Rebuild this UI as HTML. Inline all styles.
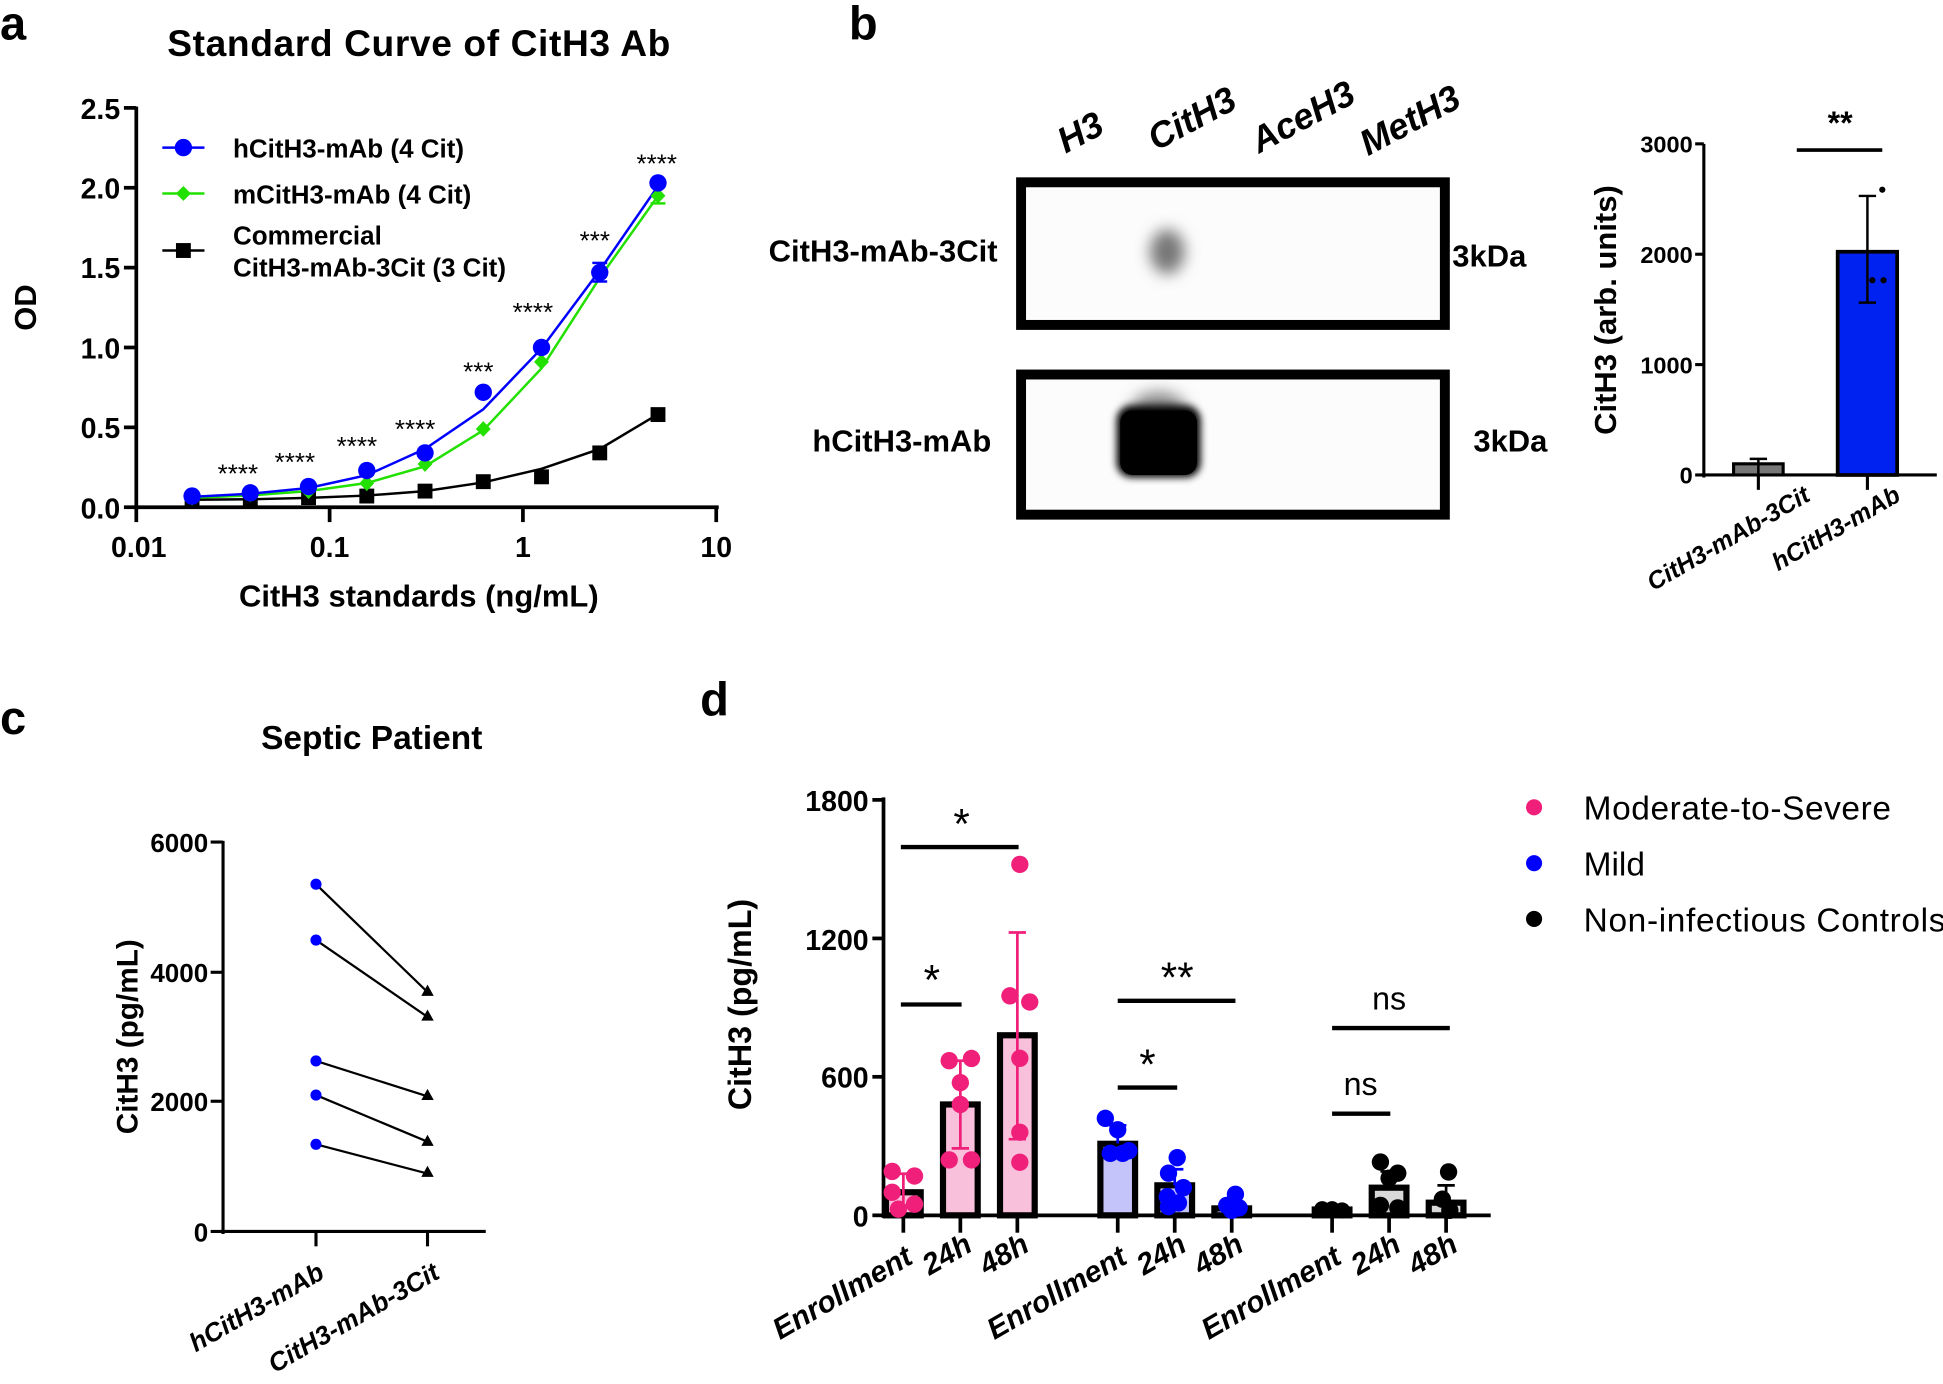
<!DOCTYPE html>
<html><head><meta charset="utf-8"><style>
html,body{margin:0;padding:0;background:#fff;}
svg{display:block;}
text{font-family:"Liberation Sans",Arial,sans-serif;}
</style></head><body>
<svg width="1943" height="1384" viewBox="0 0 1568 1116" preserveAspectRatio="none" xmlns="http://www.w3.org/2000/svg">
<defs>
<filter id="blur1" x="-50%" y="-50%" width="200%" height="200%"><feGaussianBlur stdDeviation="6"/></filter>
<filter id="blur2" x="-50%" y="-50%" width="200%" height="200%"><feGaussianBlur stdDeviation="3"/></filter>
</defs>
<g font-weight="bold" font-size="38" fill="#000">
<text x="0" y="32">a</text><text x="685" y="32">b</text><text x="0" y="592">c</text><text x="565" y="577">d</text>
</g>

<!-- ========== Panel a ========== -->
<text x="338" y="45" font-size="30" font-weight="bold" text-anchor="middle" textLength="406">Standard Curve of CitH3 Ab</text>
<g stroke="#000" stroke-width="3" fill="none">
<line x1="110" y1="86" x2="110" y2="411"/>
<line x1="108" y1="409" x2="580" y2="409"/>
<line x1="100" y1="87" x2="110" y2="87"/><line x1="100" y1="151.4" x2="110" y2="151.4"/><line x1="100" y1="215.8" x2="110" y2="215.8"/><line x1="100" y1="280.2" x2="110" y2="280.2"/><line x1="100" y1="344.6" x2="110" y2="344.6"/><line x1="100" y1="409" x2="110" y2="409"/>
<line x1="110" y1="409" x2="110" y2="421"/><line x1="266" y1="409" x2="266" y2="421"/><line x1="422" y1="409" x2="422" y2="421"/><line x1="578" y1="409" x2="578" y2="421"/>
</g>
<g font-size="23" font-weight="bold" text-anchor="end">
<text x="97" y="96">2.5</text><text x="97" y="160">2.0</text><text x="97" y="224">1.5</text><text x="97" y="289">1.0</text><text x="97" y="353">0.5</text><text x="97" y="418">0.0</text>
</g>
<g font-size="23" font-weight="bold" text-anchor="middle">
<text x="112" y="449">0.01</text><text x="266" y="449">0.1</text><text x="422" y="449">1</text><text x="578" y="449">10</text>
</g>
<text x="338" y="489" font-size="25" font-weight="bold" text-anchor="middle">CitH3 standards (ng/mL)</text>
<text transform="translate(29,248) rotate(-90)" font-size="25" font-weight="bold" text-anchor="middle">OD</text>
<polyline fill="none" stroke="#000" stroke-width="2" points="155,403 202,402.6 249,401.5 296,399.6 343,396 390,389 437,378 484,362 531,334"/>
<polyline fill="none" stroke="#22e000" stroke-width="2" points="155,401.5 202,399.5 249,396 296,389.5 343,376 390,347 437,297 484,224 531,158"/>
<polyline fill="none" stroke="#0000ff" stroke-width="2" points="155,400.6 202,398.1 249,393.5 296,383.2 343,362 390,330 437,281 484,218 531,150"/>
<g stroke="#0000ff" stroke-width="2"><line x1="484" y1="212" x2="484" y2="227"/><line x1="478" y1="212" x2="490" y2="212"/><line x1="478" y1="227" x2="490" y2="227"/></g>
<g stroke="#22e000" stroke-width="2"><line x1="531" y1="158" x2="531" y2="164"/><line x1="525" y1="164" x2="537" y2="164"/></g>
<g fill="#000">
<rect x="149" y="396.6" width="12" height="12"/><rect x="196" y="396.6" width="12" height="12"/><rect x="243" y="395.3" width="12" height="12"/><rect x="290" y="394" width="12" height="12"/><rect x="337" y="390" width="12" height="12"/><rect x="384" y="382.4" width="12" height="12"/><rect x="431" y="378.5" width="12" height="12"/><rect x="478" y="359.2" width="12" height="12"/><rect x="525" y="328.3" width="12" height="12"/>
</g>
<g fill="#22e000">
<path d="M155,395 l6,6.3 -6,6.3 -6,-6.3z"/><path d="M202,392.4 l6,6.3 -6,6.3 -6,-6.3z"/><path d="M249,389.8 l6,6.3 -6,6.3 -6,-6.3z"/><path d="M296,383.4 l6,6.3 -6,6.3 -6,-6.3z"/><path d="M343,367.9 l6,6.3 -6,6.3 -6,-6.3z"/><path d="M390,339.6 l6,6.3 -6,6.3 -6,-6.3z"/><path d="M437,285.5 l6,6.3 -6,6.3 -6,-6.3z"/><path d="M484,213.4 l6,6.3 -6,6.3 -6,-6.3z"/><path d="M531,151.5 l6,6.3 -6,6.3 -6,-6.3z"/>
</g>
<g fill="#0000ff">
<circle cx="155" cy="400" r="7"/><circle cx="202" cy="397.4" r="7"/><circle cx="249" cy="392.3" r="7"/><circle cx="296" cy="379.4" r="7"/><circle cx="343" cy="365.2" r="7"/><circle cx="390" cy="316.3" r="7"/><circle cx="437" cy="280.2" r="7"/><circle cx="484" cy="219.7" r="7"/><circle cx="531" cy="147.5" r="7"/>
</g>
<g font-size="21" text-anchor="middle">
<text x="192" y="389">****</text><text x="238" y="380">****</text><text x="288" y="367">****</text><text x="335" y="353">****</text><text x="386" y="307">***</text><text x="430" y="259">****</text><text x="480" y="201">***</text><text x="530" y="139">****</text>
</g>
<line x1="131" y1="119" x2="165" y2="119" stroke="#0000ff" stroke-width="2"/><circle cx="148" cy="119" r="7" fill="#0000ff"/>
<line x1="131" y1="156" x2="165" y2="156" stroke="#22e000" stroke-width="2"/><path d="M148,150 l6,6 -6,6 -6,-6z" fill="#22e000"/>
<line x1="131" y1="202" x2="165" y2="202" stroke="#000" stroke-width="2"/><rect x="142" y="196" width="12" height="12"/>
<g font-size="21" font-weight="bold">
<text x="188" y="127">hCitH3-mAb (4 Cit)</text><text x="188" y="164">mCitH3-mAb (4 Cit)</text><text x="188" y="197">Commercial</text><text x="188" y="223">CitH3-mAb-3Cit (3 Cit)</text>
</g>

<!-- ========== Panel b blots ========== -->
<g font-size="29" font-weight="bold" font-style="italic">
<text transform="translate(860,124) rotate(-28)">H3</text>
<text transform="translate(933,122) rotate(-28)">CitH3</text>
<text transform="translate(1016,124) rotate(-28)">AceH3</text>
<text transform="translate(1104,126) rotate(-28)">MetH3</text>
</g>
<rect x="824" y="147" width="342" height="115" fill="#fcfcfc" stroke="#000" stroke-width="8"/>
<rect x="824" y="302" width="342" height="113" fill="#fcfcfc" stroke="#000" stroke-width="8"/>
<ellipse cx="942" cy="203" rx="14" ry="18" fill="#777" filter="url(#blur1)"/>
<ellipse cx="935" cy="330" rx="22" ry="14" fill="#888" filter="url(#blur1)"/>
<rect x="901" y="327" width="68" height="58" rx="12" fill="#000" filter="url(#blur2)"/>
<rect x="904" y="331" width="62" height="52" rx="10" fill="#000"/>
<g font-size="25" font-weight="bold">
<text x="805" y="211" text-anchor="end">CitH3-mAb-3Cit</text>
<text x="800" y="364" text-anchor="end">hCitH3-mAb</text>
<text x="1172" y="215">3kDa</text>
<text x="1189" y="364">3kDa</text>
</g>
<g stroke="#000" stroke-width="2.5" fill="none">
<line x1="1375" y1="116" x2="1375" y2="385"/>
<line x1="1373" y1="383" x2="1563" y2="383"/>
<line x1="1368" y1="116" x2="1375" y2="116"/><line x1="1368" y1="205" x2="1375" y2="205"/><line x1="1368" y1="294" x2="1375" y2="294"/><line x1="1368" y1="383" x2="1375" y2="383"/>
<line x1="1419" y1="383" x2="1419" y2="395"/><line x1="1507" y1="383" x2="1507" y2="395"/>
</g>
<g font-size="19" font-weight="bold" text-anchor="end">
<text x="1366" y="123">3000</text><text x="1366" y="212">2000</text><text x="1366" y="301">1000</text><text x="1366" y="390">0</text>
</g>
<rect x="1399" y="374" width="40" height="9" fill="#777" stroke="#000" stroke-width="2.5"/>
<g stroke="#000" stroke-width="2"><line x1="1419" y1="370" x2="1419" y2="383"/><line x1="1412" y1="370" x2="1426" y2="370"/></g>
<rect x="1483" y="203" width="48" height="180" fill="#0022f0" stroke="#000" stroke-width="3"/>
<g stroke="#000" stroke-width="2"><line x1="1507" y1="158" x2="1507" y2="244"/><line x1="1500" y1="158" x2="1514" y2="158"/><line x1="1500" y1="244" x2="1514" y2="244"/></g>
<circle cx="1519" cy="153" r="2.5"/><circle cx="1511" cy="226" r="2.5"/><circle cx="1520" cy="226" r="2.5"/>
<line x1="1450" y1="121" x2="1519" y2="121" stroke="#000" stroke-width="3"/>
<text x="1485" y="108" font-size="26" font-weight="bold" text-anchor="middle">**</text>
<text transform="translate(1304,250) rotate(-90)" font-size="25" font-weight="bold" text-anchor="middle">CitH3 (arb. units)</text>
<g font-size="20" font-weight="bold" font-style="italic" text-anchor="end">
<text transform="translate(1462,403) rotate(-30)">CitH3-mAb-3Cit</text>
<text transform="translate(1535,403) rotate(-30)">hCitH3-mAb</text>
</g>

<!-- ========== Panel c ========== -->
<text x="300" y="604" font-size="27" font-weight="bold" text-anchor="middle">Septic Patient</text>
<g stroke="#000" stroke-width="2.5">
<line x1="180" y1="678" x2="180" y2="995"/>
<line x1="178" y1="993" x2="392" y2="993"/>
<line x1="170" y1="679" x2="180" y2="679"/><line x1="170" y1="784" x2="180" y2="784"/><line x1="170" y1="888" x2="180" y2="888"/><line x1="170" y1="993" x2="180" y2="993"/>
<line x1="255" y1="993" x2="255" y2="1005"/><line x1="345" y1="993" x2="345" y2="1005"/>
</g>
<g font-size="21" font-weight="bold" text-anchor="end">
<text x="168" y="687">6000</text><text x="168" y="792">4000</text><text x="168" y="896">2000</text><text x="168" y="1001">0</text>
</g>
<text transform="translate(111,836) rotate(-90)" font-size="24" font-weight="bold" text-anchor="middle">CitH3 (pg/mL)</text>
<g stroke="#000" stroke-width="1.8">
<line x1="255" y1="713" x2="345" y2="800"/><line x1="255" y1="758" x2="345" y2="820"/><line x1="255" y1="855.5" x2="345" y2="884"/><line x1="255" y1="883" x2="345" y2="920.6"/><line x1="255" y1="922.7" x2="345" y2="946.3"/>
</g>
<g fill="#0000ff"><circle cx="255" cy="713" r="4.5"/><circle cx="255" cy="758" r="4.5"/><circle cx="255" cy="855.5" r="4.5"/><circle cx="255" cy="883" r="4.5"/><circle cx="255" cy="922.7" r="4.5"/></g>
<g fill="#000"><path d="M345,794 l5,9 -10,0z"/><path d="M345,814 l5,9 -10,0z"/><path d="M345,878 l5,9 -10,0z"/><path d="M345,915 l5,9 -10,0z"/><path d="M345,940 l5,9 -10,0z"/></g>
<g font-size="21" font-weight="bold" font-style="italic" text-anchor="end">
<text transform="translate(263,1030) rotate(-30)">hCitH3-mAb</text>
<text transform="translate(356,1030) rotate(-30)">CitH3-mAb-3Cit</text>
</g>

<!-- ========== Panel d ========== -->
<g stroke="#000" stroke-width="3">
<line x1="713" y1="643" x2="713" y2="982"/>
<line x1="711" y1="980" x2="1203" y2="980"/>
<line x1="704" y1="645" x2="713" y2="645"/><line x1="704" y1="756.7" x2="713" y2="756.7"/><line x1="704" y1="868.3" x2="713" y2="868.3"/><line x1="704" y1="980" x2="713" y2="980"/>
<line x1="729" y1="980" x2="729" y2="994"/><line x1="775" y1="980" x2="775" y2="994"/><line x1="821" y1="980" x2="821" y2="994"/>
<line x1="902" y1="980" x2="902" y2="994"/><line x1="948" y1="980" x2="948" y2="994"/><line x1="994" y1="980" x2="994" y2="994"/>
<line x1="1075" y1="980" x2="1075" y2="994"/><line x1="1121" y1="980" x2="1121" y2="994"/><line x1="1167" y1="980" x2="1167" y2="994"/>
</g>
<g font-size="23" font-weight="bold" text-anchor="end">
<text x="701" y="654">1800</text><text x="701" y="766">1200</text><text x="701" y="877">600</text><text x="701" y="989">0</text>
</g>
<text transform="translate(606,810) rotate(-90)" font-size="26" font-weight="bold" text-anchor="middle">CitH3 (pg/mL)</text>
<g stroke="#000" stroke-width="5">
<rect x="715" y="961.4" width="28" height="18.6" fill="#f9c0dc"/>
<rect x="761" y="890.6" width="28" height="89.4" fill="#f9c0dc"/>
<rect x="807" y="834.8" width="28" height="145.2" fill="#f9c0dc"/>
<rect x="888" y="922.3" width="28" height="57.7" fill="#c4c4fa"/>
<rect x="934" y="955.8" width="28" height="24.2" fill="#c4c4fa"/>
<rect x="980" y="974.4" width="28" height="5.6" fill="#c4c4fa"/>
<rect x="1061" y="975.3" width="28" height="4.7" fill="#d8d8d8"/>
<rect x="1107" y="957.7" width="28" height="22.3" fill="#d8d8d8"/>
<rect x="1153" y="969.8" width="28" height="10.2" fill="#d8d8d8"/>
</g>
<g stroke="#f0207a" stroke-width="2.2">
<line x1="729" y1="946.5" x2="729" y2="976"/><line x1="722" y1="946.5" x2="736" y2="946.5"/>
<line x1="775" y1="855.3" x2="775" y2="926"/><line x1="768" y1="855.3" x2="782" y2="855.3"/><line x1="768" y1="926" x2="782" y2="926"/>
<line x1="821" y1="751.9" x2="821" y2="918.6"/><line x1="814" y1="751.9" x2="828" y2="751.9"/><line x1="814" y1="918.6" x2="828" y2="918.6"/>
</g>
<g stroke="#0000ff" stroke-width="2.2">
<line x1="902" y1="907.4" x2="902" y2="922"/><line x1="895" y1="907.4" x2="909" y2="907.4"/>
<line x1="948" y1="942.8" x2="948" y2="956"/><line x1="941" y1="942.8" x2="955" y2="942.8"/>
</g>
<g stroke="#000" stroke-width="2.2">
<line x1="1121" y1="944.6" x2="1121" y2="958"/><line x1="1114" y1="944.6" x2="1128" y2="944.6"/>
<line x1="1167" y1="955.8" x2="1167" y2="970"/><line x1="1160" y1="955.8" x2="1174" y2="955.8"/>
</g>
<g fill="#f0207a">
<circle cx="720" cy="944.6" r="7"/><circle cx="738" cy="948.3" r="7"/><circle cx="720" cy="961.4" r="7"/><circle cx="738" cy="971" r="7"/><circle cx="725" cy="975" r="7"/>
<circle cx="766" cy="855.3" r="7"/><circle cx="784" cy="853.5" r="7"/><circle cx="775" cy="873" r="7"/><circle cx="775" cy="890.6" r="7"/><circle cx="766" cy="935.3" r="7"/><circle cx="784" cy="935.3" r="7"/>
<circle cx="823" cy="697" r="7"/><circle cx="815" cy="803" r="7"/><circle cx="831" cy="808" r="7"/><circle cx="823" cy="853.4" r="7"/><circle cx="823" cy="913" r="7"/><circle cx="823" cy="937.2" r="7"/>
</g>
<g fill="#0000ff">
<circle cx="892" cy="901.8" r="7"/><circle cx="902" cy="911" r="7"/><circle cx="911" cy="927.9" r="7"/><circle cx="896" cy="930" r="7"/><circle cx="906" cy="930" r="7"/>
<circle cx="950" cy="933.5" r="7"/><circle cx="943" cy="946" r="7"/><circle cx="955" cy="957.7" r="7"/><circle cx="942" cy="965" r="7"/><circle cx="951" cy="970" r="7"/><circle cx="943" cy="973" r="7"/>
<circle cx="997" cy="963" r="7"/><circle cx="990" cy="972" r="7"/><circle cx="1000" cy="974" r="7"/><circle cx="994" cy="976" r="7"/>
</g>
<g fill="#000">
<circle cx="1067" cy="975" r="6.5"/><circle cx="1075" cy="975" r="6.5"/><circle cx="1083" cy="976" r="6.5"/>
<circle cx="1114" cy="937" r="7"/><circle cx="1128" cy="946" r="7"/><circle cx="1121" cy="950" r="7"/><circle cx="1114" cy="972" r="7"/><circle cx="1128" cy="974" r="7"/>
<circle cx="1169" cy="945" r="7"/><circle cx="1164" cy="967" r="7"/><circle cx="1170" cy="976" r="7"/>
</g>
<g stroke="#000" stroke-width="3.5">
<line x1="727" y1="683" x2="822" y2="683"/><line x1="727" y1="810" x2="776" y2="810"/>
<line x1="902" y1="807" x2="997" y2="807"/><line x1="902" y1="877" x2="950" y2="877"/>
<line x1="1075" y1="829" x2="1170" y2="829"/><line x1="1075" y1="898" x2="1122" y2="898"/>
</g>
<g font-size="34" text-anchor="middle">
<text x="776" y="676">*</text><text x="752" y="802">*</text><text x="950" y="800">**</text><text x="926" y="870">*</text>
</g>
<g font-size="26" text-anchor="middle">
<text x="1121" y="814">ns</text><text x="1098" y="883">ns</text>
</g>
<circle cx="1238" cy="651" r="6.5" fill="#f0207a"/><circle cx="1238" cy="696" r="6.5" fill="#0000ff"/><circle cx="1238" cy="741" r="6.5" fill="#000"/>
<g font-size="27">
<text x="1278" y="661" textLength="248">Moderate-to-Severe</text><text x="1278" y="706">Mild</text><text x="1278" y="751" textLength="292">Non-infectious Controls</text>
</g>
<g font-size="24" font-weight="bold" font-style="italic" text-anchor="end">
<text transform="translate(738,1018) rotate(-30)">Enrollment</text>
<text transform="translate(786,1008) rotate(-30)">24h</text>
<text transform="translate(832,1008) rotate(-30)">48h</text>
<text transform="translate(911,1018) rotate(-30)">Enrollment</text>
<text transform="translate(959,1008) rotate(-30)">24h</text>
<text transform="translate(1005,1008) rotate(-30)">48h</text>
<text transform="translate(1084,1018) rotate(-30)">Enrollment</text>
<text transform="translate(1132,1008) rotate(-30)">24h</text>
<text transform="translate(1178,1008) rotate(-30)">48h</text>
</g>
</svg>
</body></html>
